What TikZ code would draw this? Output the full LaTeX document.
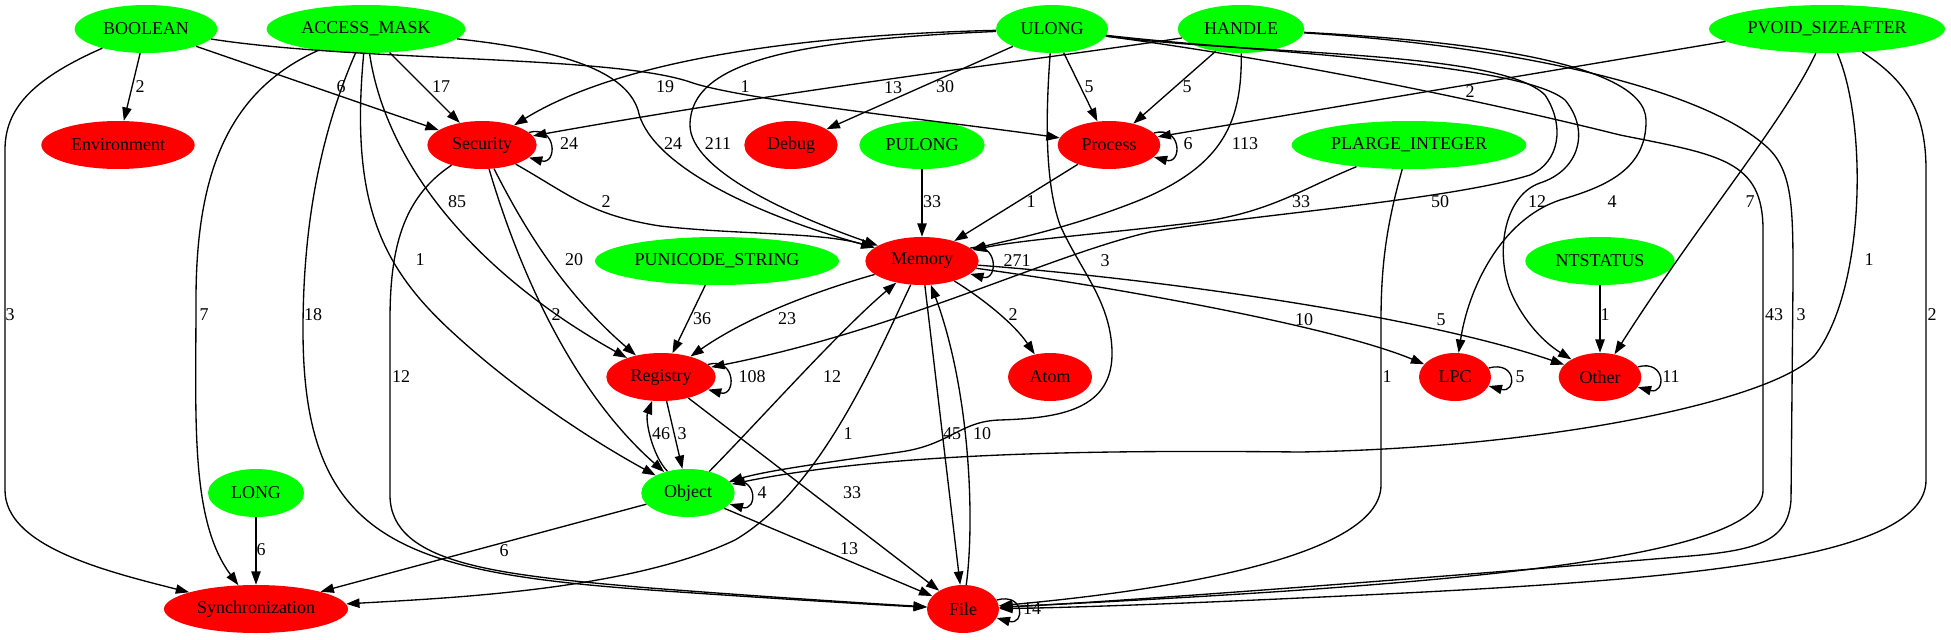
\documentclass[tikz,border=0pt]{standalone}
\usepackage{fontspec}
\setmainfont{Liberation Serif}
\usetikzlibrary{arrows.meta,shapes.geometric}

\begin{document}
\begin{tikzpicture}[x=0.75pt,y=-0.75pt,
	argtype/.style={ellipse,fill=green,inner sep=0pt,minimum height=36pt,minimum width=#1,font=\fontsize{13.5}{16}\selectfont},
	category/.style={argtype=#1,fill=red},
	lbl/.style={inner sep=0pt,font=\fontsize{13.5}{16}\selectfont},
	dep/.style={draw,line width=1pt,-{Triangle[length=10pt,width=7pt]}},
	selfloop/.style={dep,out=15,in=-15,distance=22pt}]
\useasboundingbox (0,0) rectangle (1951,639);
% argument types (green) and categories (red)
\node[argtype=107pt] (boolean) at (146,29) {BOOLEAN};
\node[argtype=149pt] (accessmask) at (366,29) {ACCESS\_MASK};
\node[argtype=84pt] (ulong) at (1052,29) {ULONG};
\node[argtype=95pt] (handle) at (1241,29) {HANDLE};
\node[argtype=177pt] (pvoid) at (1827,29) {PVOID\_SIZEAFTER};
\node[category=115pt] (environment) at (118,145) {Environment};
\node[category=82pt] (security) at (482,145) {Security};
\node[category=70pt] (debug) at (791,145) {Debug};
\node[argtype=94pt] (pulong) at (922,145) {PULONG};
\node[category=77pt] (process) at (1109,145) {Process};
\node[argtype=176pt] (plarge) at (1409,145) {PLARGE\_INTEGER};
\node[argtype=183pt] (punicode) at (717,261) {PUNICODE\_STRING};
\node[category=85pt] (memory) at (922,261) {Memory};
\node[argtype=112pt] (ntstatus) at (1600,261) {NTSTATUS};
\node[category=82pt] (registry) at (661,377) {Registry};
\node[category=63pt] (atom) at (1050,377) {Atom};
\node[category=54pt] (lpc) at (1455,377) {LPC};
\node[category=62pt] (other) at (1600,377) {Other};
\node[argtype=72pt] (long) at (256,493) {LONG};
\node[argtype=70pt] (object) at (688,493) {Object};
\node[category=138pt] (sync) at (256,609) {Synchronization};
\node[category=54pt] (file) at (963,609) {File};

% BOOLEAN
\draw[dep] (boolean) -- (environment) node[lbl] at (140,87) {2};
\draw[dep] (boolean) -- (security) node[lbl] at (341,87) {6};
\draw[dep] (boolean) .. controls (360,62) and (610,55) .. (690,82) .. controls (740,100) and (950,122) .. (process) node[lbl] at (745,87) {1};
\draw[dep] (boolean) .. controls (30,80) and (5,110) .. (5,150) -- (5,490) .. controls (5,545) and (100,570) .. (sync) node[lbl] at (10,315) {3};
% ACCESS_MASK
\draw[dep] (accessmask) -- (security) node[lbl] at (441,87) {17};
\draw[dep] (accessmask) .. controls (560,50) and (625,70) .. (638,110) .. controls (648,160) and (740,210) .. (memory) node[lbl] at (673,144) {24};
\draw[dep] (accessmask) .. controls (385,160) and (470,270) .. (registry) node[lbl] at (457,202) {85};
\draw[dep] (accessmask) .. controls (350,200) and (380,265) .. (450,330) .. controls (520,395) and (600,445) .. (object) node[lbl] at (420,260) {1};
\draw[dep] (accessmask) .. controls (322,130) and (303,220) .. (303,330) .. controls (303,540) and (400,572) .. (650,590) .. controls (780,599) and (880,605) .. (file) node[lbl] at (313,315) {18};
\draw[dep] (accessmask) .. controls (230,90) and (196,170) .. (196,300) .. controls (196,420) and (190,520) .. (sync) node[lbl] at (204,315) {7};
% ULONG
\draw[dep] (ulong) .. controls (800,35) and (620,60) .. (security) node[lbl] at (665,87) {19};
\draw[dep] (ulong) .. controls (800,40) and (690,60) .. (690,125) .. controls (690,170) and (790,215) .. (memory) node[lbl] at (718,144) {211};
\draw[dep] (ulong) -- (debug) node[lbl] at (945,87) {30};
\draw[dep] (ulong) -- (process) node[lbl] at (1089,87) {5};
\draw[dep] (ulong) .. controls (1046,110) and (1044,180) .. (1060,225) .. controls (1080,270) and (1110,300) .. (1112,350) .. controls (1114,410) and (1060,418) .. (1000,420) .. controls (960,421) and (950,445) .. (900,452) .. controls (830,462) and (770,470) .. (object) node[lbl] at (1105,261) {3};
\draw[dep] (ulong) .. controls (1250,55) and (1500,50) .. (1545,95) .. controls (1565,125) and (1560,162) .. (1530,175) .. controls (1450,200) and (1250,215) .. (1150,232) .. controls (1050,255) and (900,330) .. (registry) node[lbl] at (1440,202) {50};
\draw[dep] (ulong) .. controls (1250,52) and (1520,62) .. (1565,100) .. controls (1590,130) and (1580,170) .. (1540,183) .. controls (1505,195) and (1495,250) .. (1510,290) .. controls (1520,315) and (1540,340) .. (other) node[lbl] at (1537,202) {12};
\draw[dep] (ulong) .. controls (1300,62) and (1500,105) .. (1620,135) .. controls (1720,155) and (1763,160) .. (1763,230) -- (1763,490) .. controls (1763,560) and (1450,585) .. (file) node[lbl] at (1774,315) {43};
% HANDLE
\draw[dep] (handle) .. controls (1050,58) and (800,88) .. (security) node[lbl] at (893,88) {13};
\draw[dep] (handle) -- (process) node[lbl] at (1187,87) {5};
\draw[dep] (handle) .. controls (1242,120) and (1225,165) .. (1140,200) .. controls (1070,228) and (1010,240) .. (memory) node[lbl] at (1245,144) {113};
\draw[dep] (handle) .. controls (1450,40) and (1645,60) .. (1646,120) .. controls (1647,172) and (1600,188) .. (1560,200) .. controls (1500,220) and (1468,290) .. (lpc) node[lbl] at (1612,202) {4};
\draw[dep] (handle) .. controls (1500,45) and (1700,85) .. (1768,148) .. controls (1793,172) and (1793,210) .. (1793,280) -- (1791,500) .. controls (1788,540) and (1760,550) .. (1690,556) .. controls (1500,572) and (1150,600) .. (file) node[lbl] at (1801,315) {3};
% PVOID_SIZEAFTER
\draw[dep] (pvoid.187) -- (process) node[lbl] at (1470,92) {2};
\draw[dep] (pvoid) .. controls (1785,120) and (1700,220) .. (other) node[lbl] at (1750,202) {7};
\draw[dep] (pvoid) .. controls (1868,125) and (1865,290) .. (1815,355) .. controls (1775,400) and (1550,448) .. (1300,452) .. controls (1100,450) and (890,452) .. (object) node[lbl] at (1869,260) {1};
\draw[dep] (pvoid) .. controls (1905,80) and (1926,110) .. (1926,170) -- (1926,480) .. controls (1926,565) and (1650,582) .. (1300,598) .. controls (1150,605) and (1050,608) .. (file) node[lbl] at (1932,315) {2};
% other types
\draw[dep] (pulong) -- (memory) node[lbl] at (932,202) {33};
\draw[dep] (plarge) .. controls (1300,190) and (1270,212) .. (1200,222) .. controls (1100,234) and (1020,240) .. (memory) node[lbl] at (1301,202) {33};
\draw[dep] (plarge) .. controls (1388,220) and (1381,260) .. (1381,320) -- (1381,485) .. controls (1381,560) and (1150,592) .. (file) node[lbl] at (1387,377) {1};
\draw[dep] (punicode) -- (registry) node[lbl] at (702,319) {36};
\draw[dep] (ntstatus) -- (other) node[lbl] at (1605,315) {1};
\draw[dep] (long) -- (sync) node[lbl] at (261,550) {6};
% categories
\draw[selfloop] (security) to (security) node[lbl] at (569,144) {24};
\draw[dep] (security) .. controls (570,195) and (590,215) .. (660,226) .. controls (740,235) and (820,232) .. (memory) node[lbl] at (606,202) {2};
\draw[dep] (security) .. controls (520,220) and (560,290) .. (registry) node[lbl] at (574,260) {20};
\draw[dep] (security) .. controls (510,240) and (560,380) .. (object) node[lbl] at (556,315) {2};
\draw[dep] (security) .. controls (402,198) and (390,250) .. (390,320) -- (390,495) .. controls (390,565) and (500,575) .. (650,588) .. controls (780,598) and (880,604) .. (file) node[lbl] at (401,377) {12};
\draw[selfloop] (process) to (process) node[lbl] at (1188,144) {6};
\draw[dep] (process) -- (memory) node[lbl] at (1031,202) {1};
\draw[selfloop] (memory) to (memory) node[lbl] at (1017,261) {271};
\draw[dep] (memory) .. controls (820,290) and (750,315) .. (registry) node[lbl] at (787,319) {23};
\draw[dep] (memory) .. controls (985,300) and (1015,325) .. (atom) node[lbl] at (1013,315) {2};
\draw[dep] (memory) .. controls (1100,285) and (1330,325) .. (lpc) node[lbl] at (1304,320) {10};
\draw[dep] (memory) .. controls (1150,278) and (1420,315) .. (other) node[lbl] at (1441,320) {5};
\draw[dep] (memory) -- (file) node[lbl] at (952,434) {45};
\draw[dep] (memory) .. controls (875,360) and (820,490) .. (735,540) .. controls (630,590) and (450,598) .. (sync) node[lbl] at (848,434) {1};
\draw[selfloop] (registry) to (registry) node[lbl] at (752,377) {108};
\draw[dep] (registry) -- (object) node[lbl] at (682,434) {3};
\draw[dep] (registry) -- (file) node[lbl] at (852,493) {33};
\draw[selfloop] (lpc) to (lpc) node[lbl] at (1520,377) {5};
\draw[selfloop] (other) to (other) node[lbl] at (1671,377) {11};
\draw[selfloop] (object) to (object) node[lbl] at (762,493) {4};
\draw[dep] (object) .. controls (652,455) and (645,420) .. (registry) node[lbl] at (661,434) {46};
\draw[dep] (object) .. controls (760,420) and (840,330) .. (memory) node[lbl] at (832,377) {12};
\draw[dep] (object) -- (sync) node[lbl] at (504,551) {6};
\draw[dep] (object) -- (file) node[lbl] at (849,549) {13};
\draw[selfloop] (file) to (file) node[lbl] at (1032,609) {14};
\draw[dep] (file) .. controls (975,520) and (970,390) .. (memory) node[lbl] at (982,434) {10};
\end{tikzpicture}
\end{document}
